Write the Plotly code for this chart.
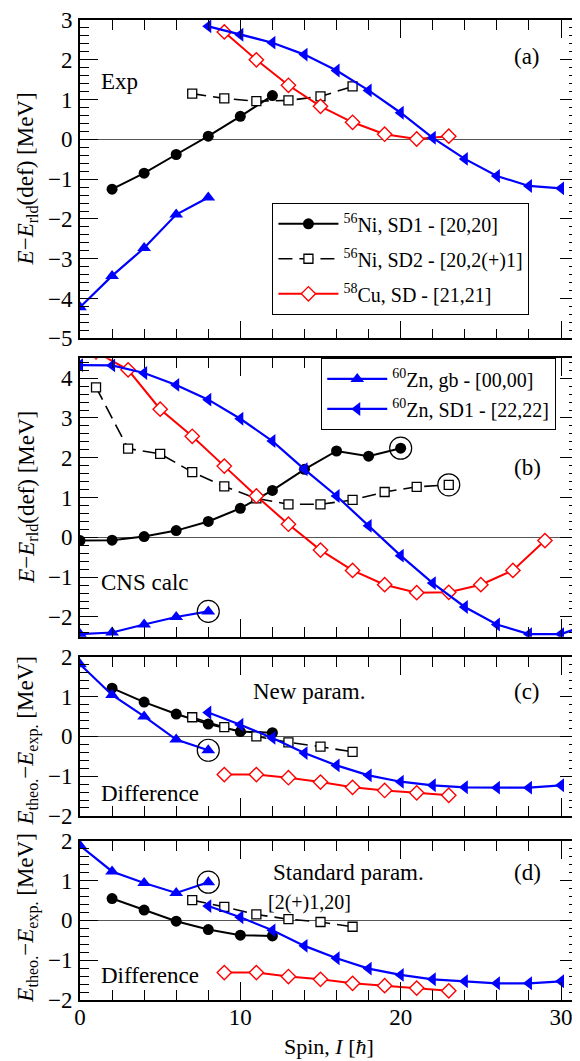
import plotly.graph_objects as go

# ---------------- data ----------------
# Panel (a): Exp
ni1_a_x = [2, 4, 6, 8, 10, 12]
ni1_a_y = [-1.25, -0.85, -0.38, 0.08, 0.58, 1.10]
ni2_a_x = [7, 9, 11, 13, 15, 17]
ni2_a_y = [1.15, 1.03, 0.96, 0.98, 1.08, 1.33]
cu_a_x = [9, 11, 13, 15, 17, 19, 21, 23]
cu_a_y = [2.70, 2.00, 1.36, 0.83, 0.43, 0.13, 0.01, 0.08]
zngb_a_x = [0, 2, 4, 6, 8]
zngb_a_y = [-4.22, -3.43, -2.73, -1.89, -1.46]
znsd_a_x = [8, 10, 12, 14, 16, 18, 20, 22, 24, 26, 28, 30]
znsd_a_y = [2.84, 2.63, 2.43, 2.13, 1.73, 1.23, 0.67, 0.04, -0.49, -0.92, -1.17, -1.23]

# Panel (b): CNS calc
ni1_b_x = [0, 2, 4, 6, 8, 10, 12, 14, 16, 18, 20]
ni1_b_y = [-0.08, -0.07, 0.02, 0.17, 0.40, 0.73, 1.18, 1.71, 2.17, 2.04, 2.24]
ni2_b_x = [1, 3, 5, 7, 9, 11, 13, 15, 17, 19, 21, 23]
ni2_b_y = [3.77, 2.23, 2.10, 1.64, 1.28, 0.98, 0.83, 0.83, 0.94, 1.14, 1.27, 1.32]
cu_b_x = [1, 3, 5, 7, 9, 11, 13, 15, 17, 19, 21, 23, 25, 27, 29]
cu_b_y = [4.66, 4.21, 3.22, 2.54, 1.79, 1.04, 0.33, -0.32, -0.83, -1.19, -1.39, -1.38, -1.19, -0.83, -0.08]
zngb_b_x = [0, 2, 4, 6, 8]
zngb_b_y = [-2.43, -2.39, -2.19, -2.00, -1.86]
znsd_b_x = [0, 2, 4, 6, 8, 10, 12, 14, 16, 18, 20, 22, 24, 26, 28, 30, 32]
znsd_b_y = [4.33, 4.32, 4.13, 3.83, 3.46, 2.98, 2.42, 1.71, 1.04, 0.29, -0.46, -1.15, -1.75, -2.19, -2.43, -2.43, -2.15]

# Panel (c): difference, new param.
ni1_c_y = [1.21, 0.86, 0.56, 0.31, 0.12, 0.09]
ni2_c_y = [0.48, 0.23, 0.00, -0.15, -0.26, -0.39]
cu_c_y = [-0.96, -0.96, -1.04, -1.15, -1.28, -1.36, -1.42, -1.48]
zngb_c_y = [1.81, 1.04, 0.50, -0.08, -0.35]
znsd_c_y = [0.60, 0.29, -0.04, -0.42, -0.73, -0.98, -1.14, -1.23, -1.28, -1.29, -1.29, -1.23]

# Panel (d): difference, standard param.
ni1_d_y = [0.55, 0.26, -0.02, -0.23, -0.37, -0.39]
ni2_d_y = [0.51, 0.34, 0.15, 0.03, -0.04, -0.16]
cu_d_y = [-1.31, -1.31, -1.41, -1.48, -1.58, -1.64, -1.70, -1.77]
zngb_d_y = [1.88, 1.23, 0.94, 0.69, 0.96]
znsd_d_y = [0.36, 0.08, -0.25, -0.64, -0.95, -1.21, -1.37, -1.48, -1.53, -1.58, -1.58, -1.53]

names = ["<sup>56</sup>Ni, SD1 - [20,20]",
         "<sup>56</sup>Ni, SD2 - [20,2(+)1]",
         "<sup>58</sup>Cu, SD - [21,21]",
         "<sup>60</sup>Zn, gb - [00,00]",
         "<sup>60</sup>Zn, SD1 - [22,22]"]

x_ticks = [0, 10, 20, 30]
X_MAX = 31.06

# ---------------- layout geometry ----------------
# the page body has an 8px default margin, so the figure is made 8px smaller
OFF = 8
W, H = 580 - OFF, 1061 - OFF
L, R, T = 80 - OFF, 0, 15 - OFF
PLOT_BOTTOM = 1000 - OFF
B = H - PLOT_BOTTOM
PW, PH = W - L - R, H - T - B
def px_x(p):  # p: pixel in the final screenshot
    return (p - OFF - L) / PW
def px_y(p):
    return (PLOT_BOTTOM - (p - OFF)) / PH

FONT = "Liberation Serif"
BLUE = "#0000ff"
RED = "#ff0000"

panels = [
    dict(data=[(ni1_a_x, ni1_a_y), (ni2_a_x, ni2_a_y), (cu_a_x, cu_a_y),
               (zngb_a_x, zngb_a_y), (znsd_a_x, znsd_a_y)],
         yr=[-5, 3], top=15, bot=335, circ=[]),
    dict(data=[(ni1_b_x, ni1_b_y), (ni2_b_x, ni2_b_y), (cu_b_x, cu_b_y),
               (zngb_b_x, zngb_b_y), (znsd_b_x, znsd_b_y)],
         yr=[-2.5, 4.5], top=355, bot=635, circ=[0, 1, 3]),
    dict(data=[(ni1_a_x, ni1_c_y), (ni2_a_x, ni2_c_y), (cu_a_x, cu_c_y),
               (zngb_a_x, zngb_c_y), (znsd_a_x, znsd_c_y)],
         yr=[-2, 2], top=655, bot=815, circ=[3]),
    dict(data=[(ni1_a_x, ni1_d_y), (ni2_a_x, ni2_d_y), (cu_a_x, cu_d_y),
               (zngb_a_x, zngb_d_y), (znsd_a_x, znsd_d_y)],
         yr=[-2, 2], top=840, bot=1000, circ=[3]),
]

styles = [
    dict(line=dict(color="black", width=2),
         marker=dict(symbol="circle", size=11, color="black")),
    dict(line=dict(color="black", width=1.6, dash="14px,7px"),
         marker=dict(symbol="square", size=9, color="white",
                     line=dict(color="black", width=1.3))),
    dict(line=dict(color=RED, width=2),
         marker=dict(symbol="diamond", size=11, color="white",
                     line=dict(color=RED, width=1.4))),
    dict(line=dict(color=BLUE, width=2.2),
         marker=dict(symbol="triangle-up", size=12, color=BLUE)),
    dict(line=dict(color=BLUE, width=2.2),
         marker=dict(symbol="triangle-left", size=12, color=BLUE)),
]

fig = go.Figure()
layout = {}
for i, p in enumerate(panels):
    k = "" if i == 0 else str(i + 1)
    xa, ya = "x" + k, "y" + k
    lo, hi = p["yr"]
    for j, (xs, ys) in enumerate(p["data"]):
        st = styles[j]
        fig.add_trace(go.Scatter(
            x=xs, y=ys, xaxis=xa, yaxis=ya, mode="lines+markers",
            name=names[j], line=st["line"], marker=st["marker"],
            showlegend=(i == 0), legend=("legend" if j < 3 else "legend2"),
            legendgroup="g%d" % j))
    # circled points (last point of selected series)
    cx = [p["data"][j][0][-1] for j in p["circ"]]
    cy = [p["data"][j][1][-1] for j in p["circ"]]
    if cx:
        fig.add_trace(go.Scatter(
            x=cx, y=cy, xaxis=xa, yaxis=ya, mode="markers", showlegend=False,
            marker=dict(symbol="circle-open", size=22, color="black",
                        line=dict(color="black", width=1.2))))
    layout["xaxis" + k] = dict(
        domain=[0, 1], anchor=ya, range=[0, X_MAX],
        tickvals=x_ticks, showticklabels=(i == 3),
        ticks="inside", ticklen=18, tickwidth=1.3, tickcolor="black",
        minor=dict(dtick=2, tick0=0, ticks="inside", ticklen=10, tickwidth=1.3, tickcolor="black"),
        showline=True, linecolor="black", linewidth=1.6, mirror="ticks",
        showgrid=False, zeroline=False,
        tickfont=dict(family=FONT, size=23, color="black"),
        ticklabelstandoff=-4)
    yt = list(range(int(-(-lo // 1)), int(hi // 1) + 1))
    layout["yaxis" + k] = dict(
        domain=[px_y(p["bot"]), px_y(p["top"])], anchor=xa, range=p["yr"],
        tickvals=yt, ticks="inside", ticklen=18, tickwidth=1.3, tickcolor="black",
        minor=dict(dtick=0.2, tick0=0, ticks="inside", ticklen=9, tickwidth=1.2, tickcolor="black"),
        showline=True, linecolor="black", linewidth=1.6, mirror="ticks",
        showgrid=False, zeroline=True, zerolinecolor="#555555", zerolinewidth=1,
        tickfont=dict(family=FONT, size=23, color="black"),
        ticklabelstandoff=1)

ann = []
def txt(s, x, y, size=23, xanchor="left", angle=0):
    ann.append(dict(text=s, x=px_x(x), y=px_y(y), xref="paper", yref="paper",
                    xanchor=xanchor, yanchor="middle", showarrow=False,
                    textangle=angle, font=dict(family=FONT, size=size, color="black")))

txt("Exp", 99, 77)
txt("(a)", 529, 52, xanchor="center")
txt("(b)", 529, 465, xanchor="center")
txt("CNS calc", 99, 580)
txt("New param.", 252, 690)
txt("(c)", 529, 690, xanchor="center")
txt("Difference", 99, 792)
txt("Standard param.", 272, 872)
txt("(d)", 529, 872, xanchor="center")
txt("[2(+)1,20]", 267, 902, size=20)
txt("Difference", 99, 975)
ytitle1 = "<i>E</i>−<i>E</i><sub>rld</sub>(def) [MeV]"
ytitle2 = "<i>E</i><sub>theo.</sub>−<i>E</i><sub>exp.</sub> [MeV]"
txt(ytitle1, 27, 175, size=23, xanchor="center", angle=-90)
txt(ytitle1, 27, 495, size=23, xanchor="center", angle=-90)
txt(ytitle2, 27, 740, size=23, xanchor="center", angle=-90)
txt(ytitle2, 27, 918, size=23, xanchor="center", angle=-90)
txt("Spin, <i>I</i> [<i>ħ</i>]", 330, 1047, size=22, xanchor="center")

legend_common = dict(
    bgcolor="white", bordercolor="black", borderwidth=1.2,
    font=dict(family=FONT, size=20, color="black"),
    itemwidth=60, traceorder="grouped",
    xanchor="left", yanchor="top", itemclick=False)

fig.update_layout(
    width=W, height=H, margin=dict(l=L, r=R, t=T, b=B, pad=0),
    paper_bgcolor="white", plot_bgcolor="white",
    annotations=ann,
    legend=dict(x=px_x(273), y=px_y(199), tracegroupgap=6, **legend_common),
    legend2=dict(x=px_x(322), y=px_y(355), tracegroupgap=1, **legend_common),
    **layout)

fig.write_html("out.html")
